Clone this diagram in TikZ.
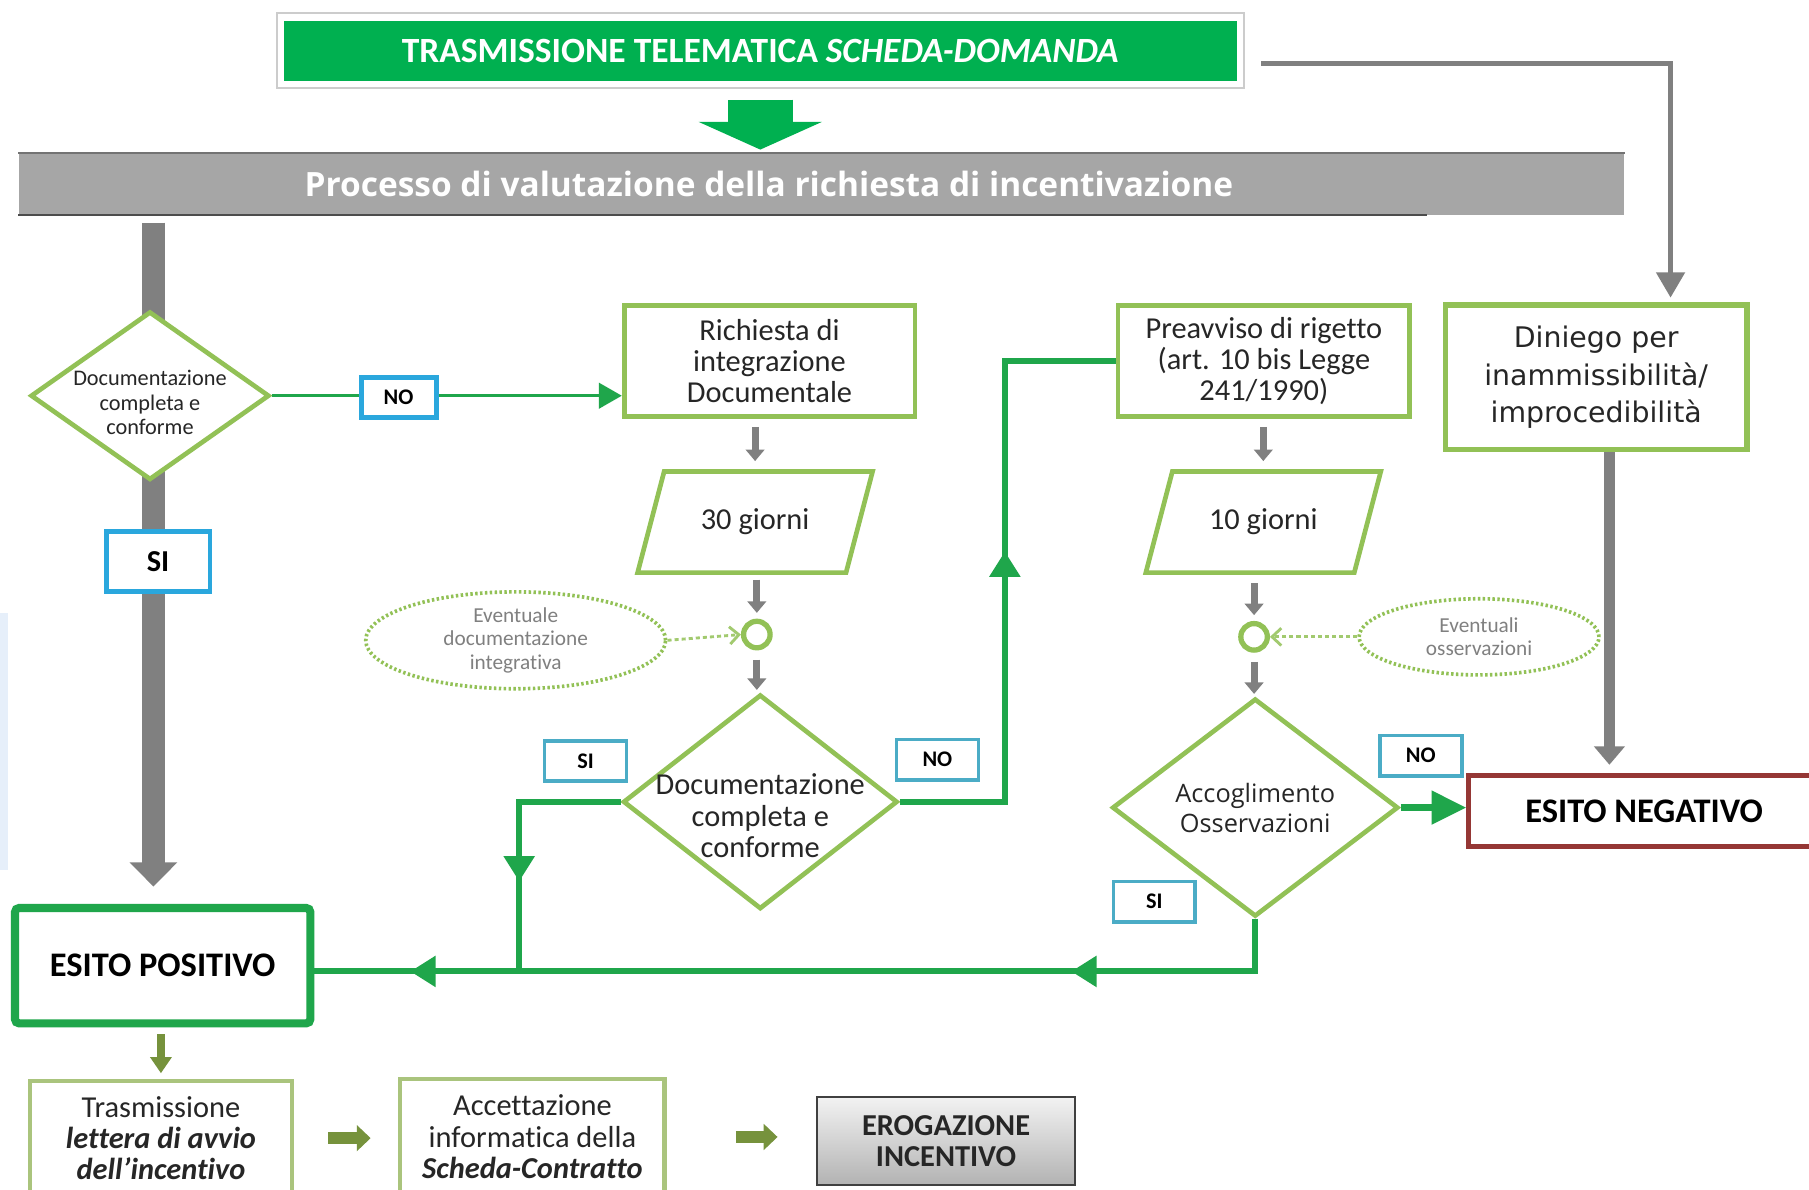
\documentclass[tikz,border=0pt]{standalone}
\usepackage{fontspec}
\setmainfont{Carlito}[Ligatures={TeX,NoCommon}]
\newfontfamily\verdfont{DejaVu Sans}
\newfontfamily\openfont{Open Sans}[Ligatures={TeX,NoCommon}]
\usetikzlibrary{arrows.meta,shapes.geometric,decorations.markings}

\definecolor{topGreen}{HTML}{00B050}
\definecolor{barGray}{HTML}{A6A6A6}
\definecolor{shapeGreen}{HTML}{92C156}
\definecolor{routeGreen}{HTML}{1FA64B}
\definecolor{labelBlue}{HTML}{2AA7DD}
\definecolor{tagBlue}{HTML}{4BACC6}
\definecolor{arrowGray}{HTML}{808080}
\definecolor{oliveGreen}{HTML}{76923C}
\definecolor{paleOlive}{HTML}{AAC47D}
\definecolor{negRed}{HTML}{953735}
\definecolor{inkGray}{HTML}{262626}
\definecolor{edgeBlue}{HTML}{E6EFFA}

\begin{document}
\begin{tikzpicture}[x=0.02cm, y=-0.02cm,
  stepbox/.style={draw=shapeGreen, line width=2.3pt, fill=white, text=inkGray, align=center, inner sep=0pt},
  decision/.style={diamond, draw=shapeGreen, line width=2.3pt, fill=white, inner sep=0pt},
  waitbox/.style={minimum width=3.6cm, minimum height=1.74cm, text=inkGray, inner sep=0pt, font=\fontsize{15}{18}\selectfont},
  hub/.style={circle, draw=shapeGreen, line width=2.6pt, fill=white, minimum size=0.46cm, inner sep=0pt},
  cloud/.style={ellipse, draw=shapeGreen, line width=1.8pt, dash pattern=on 1.2pt off 1.2pt, text=arrowGray, align=center, inner sep=0pt, font=\fontsize{10.5}{11.5}\selectfont},
  tagbig/.style={draw=labelBlue, line width=2.4pt, fill=white, inner sep=0pt},
  tag/.style={draw=tagBlue, line width=1.8pt, fill=white, minimum width=1.42cm, minimum height=0.7cm, inner sep=0pt, font=\fontsize{11}{13}\selectfont\bfseries},
  feed/.style={draw=arrowGray, line width=0.12cm, -{Triangle[width=0.32cm,length=0.2cm]}},
  hint/.style={draw=shapeGreen!85, line width=1.4pt, dash pattern=on 2pt off 1.5pt, -{Straight Barb[length=0.16cm,width=0.3cm]}},
  route/.style={draw=routeGreen, line width=2.9pt},
  tipmark/.style={postaction={decorate, decoration={markings, mark=at position #1 with {\arrow{Triangle[width=0.52cm,length=0.44cm]}}}}},
  olive/.style={draw=oliveGreen, line width=#1}]
\def\slantframe#1{\draw[draw=shapeGreen, line width=2.3pt] ([xshift=0.23cm]#1.north west) -- ([xshift=0.23cm]#1.north east) -- ([xshift=-0.23cm]#1.south east) -- ([xshift=-0.23cm]#1.south west) -- cycle;}
\fill[white] (0,0) rectangle (1568,1031);
\useasboundingbox (0,0) rectangle (1568,1031);
\fill[edgeBlue] (0,531) rectangle (7,754);

% Header: transmission and evaluation banner
\node[fill=topGreen, text=white, minimum width=16.52cm, minimum height=1.04cm, inner sep=0pt, font=\fontsize{17.5}{20}\selectfont\bfseries] (intake) at (659,44) {TRASMISSIONE TELEMATICA \textit{SCHEDA-DOMANDA}};
\draw[black!20, line width=1pt] ([shift={(-0.12cm,0.12cm)}]intake.north west) rectangle ([shift={(0.12cm,-0.12cm)}]intake.south east);
\node[fill=barGray, minimum width=27.84cm, minimum height=1.06cm, inner sep=0pt, label={[text=white, xshift=-0.91cm, font=\openfont\fontsize{16.5}{19}\selectfont\bfseries]center:Processo di valutazione della richiesta di incentivazione}] (review) at (712,159.5) {};
\draw[black!55, line width=0.8pt] (review.north west) -- (review.north east);
\draw[black!70, line width=1pt] (review.south west) -- ++(1221,0);
\draw[topGreen, line width=1.12cm, -{Triangle[width=2.12cm,length=0.48cm]}, shorten <=0.32cm, shorten >=0.06cm] (intake.south) -- (intake.south |- review.north);

% Left column: first check
\node[draw=routeGreen, line width=4pt, rounded corners=2pt, fill=white, minimum width=5.12cm, minimum height=2cm, font=\fontsize{17}{20}\selectfont\bfseries] (pos) at (141,837) {ESITO POSITIVO};
\coordinate (spine) at (133,193);
\draw[arrowGray, line width=0.4cm, -{Triangle[width=0.8cm,length=0.42cm]}, shorten >=0.3cm] (spine) -- (spine |- pos.north);
\node[decision, minimum width=4.14cm, minimum height=2.92cm, label={[align=center, text=inkGray, yshift=-0.12cm, font=\fontsize{11}{12}\selectfont]center:Documentazione\\completa e\\conforme}] (check) at (130,343) {};
\node[tagbig, minimum width=1.8cm, minimum height=1.04cm, font=\fontsize{15}{18}\selectfont\bfseries] (yesA) at (137,487) {SI};

% Middle column: integration request
\node[stepbox, minimum width=5.04cm, minimum height=1.92cm, font=\fontsize{15}{15.5}\selectfont] (request) at (667,313) {Richiesta di\\integrazione\\Documentale};
\draw[routeGreen, line width=1.7pt, -{Triangle[width=0.44cm,length=0.4cm]}] (check.east) -- (check.east -| request.west);
\node[tagbig, minimum width=1.3cm, minimum height=0.7cm, font=\fontsize{11}{13}\selectfont\bfseries] (noA) at (345.5,344.5) {NO};
\node[waitbox] (wait30) at (654.5,452.5) {30 giorni};
\slantframe{wait30}
\draw[feed, shorten <=0.14cm, shorten >=0.18cm] (request.south -| wait30.north) -- (wait30.north);
\node[hub] (gateA) at (656,550) {};
\draw[feed, shorten <=0.12cm, shorten >=0.1cm] (wait30.south -| gateA) -- (gateA.north);
\node[cloud, minimum width=5.2cm, minimum height=1.68cm] (extraA) at (447,555) {Eventuale\\documentazione\\integrativa};
\draw[hint] (extraA.east) -- (gateA.west);
\node[decision, minimum width=4.76cm, minimum height=3.72cm, label={[align=center, text=inkGray, yshift=-0.24cm, font=\fontsize{15}{15.5}\selectfont]center:Documentazione\\completa e\\conforme}] (checkB) at (659,695) {};
\draw[feed, shorten <=0.16cm, shorten >=0.04cm] (gateA.south) -- (gateA.south |- checkB.north);

% Right column: notice of rejection
\node[stepbox, minimum width=5.06cm, minimum height=1.92cm, font=\fontsize{15}{15.5}\selectfont] (notice) at (1095.5,313) {Preavviso di rigetto\\(art. 10 bis Legge\\241/1990)};
\node[waitbox] (wait10) at (1095,452.5) {10 giorni};
\slantframe{wait10}
\draw[feed, shorten <=0.14cm, shorten >=0.18cm] (notice.south -| wait10.north) -- (wait10.north);
\node[hub] (gateB) at (1087,552) {};
\draw[feed, shorten <=0.18cm, shorten >=0.1cm] (wait10.south -| gateB) -- (gateB.north);
\node[cloud, minimum width=4.16cm, minimum height=1.32cm] (extraB) at (1282,552) {Eventuali\\osservazioni};
\draw[hint] (extraB.west) -- (gateB.east);
\node[decision, minimum width=4.96cm, minimum height=3.78cm, label={[align=center, text=inkGray, font=\openfont\fontsize{12.5}{14.8}\selectfont]center:Accoglimento\\Osservazioni}] (checkC) at (1088,700) {};
\draw[feed, shorten <=0.16cm, shorten >=0.04cm] (gateB.south) -- (gateB.south |- checkC.north);

% Denial and negative outcome
\node[stepbox, line width=2.8pt, minimum width=5.22cm, minimum height=2.5cm, font=\verdfont\fontsize{14}{18.4}\selectfont] (denial) at (1383.5,327) {Diniego per\\inammissibilità/\\improcedibilità};
\draw[arrowGray, line width=0.1cm, -{Triangle[width=0.48cm,length=0.44cm]}, shorten >=0.08cm] ([xshift=0.42cm,yshift=-0.22cm]intake.east) -| ([xshift=1.29cm]denial.north);
\node[draw=negRed, line width=2.4pt, fill=white, minimum width=6.08cm, minimum height=1.24cm, font=\fontsize{17}{20}\selectfont\bfseries] (negative) at (1425,703) {ESITO NEGATIVO};
\draw[arrowGray, line width=0.2cm, -{Triangle[width=0.52cm,length=0.32cm]}, shorten >=0.14cm] ([xshift=0.23cm]denial.south) -- ([xshift=0.23cm]denial.south |- negative.north);
\draw[routeGreen, line width=3.4pt, -{Triangle[width=0.56cm,length=0.6cm]}] (checkC.east) -- (checkC.east -| negative.west);

% Green routes back to the positive outcome
\coordinate (joinA) at (450,842);
\draw[route, tipmark=3.14cm] (checkB.west) -| (joinA);
\draw[route, tipmark=6.16cm] (checkB.east) -- ++(91,0) |- (notice.west);
\draw[route, tipmark=4.1cm, tipmark=15.56cm] (checkC.south) |- ([yshift=-0.1cm]pos.east);
\node[tag] (yesB) at (507.5,659.5) {SI};
\node[tag] (noB) at (812.5,658.5) {NO};
\node[tag] (noC) at (1231.5,655) {NO};
\node[tag] (yesC) at (1000.5,781.5) {SI};

% Bottom row: contract and payment
\node[stepbox, draw=paleOlive, line width=2pt, minimum width=4.54cm, minimum height=1.98cm, font=\fontsize{15}{15.5}\selectfont] (letter) at (139.5,986.5) {Trasmissione\\\textbf{\textit{lettera di avvio}}\\\textbf{\textit{dell'incentivo}}};
\node[stepbox, draw=paleOlive, line width=2pt, minimum width=4.58cm, minimum height=2.02cm, font=\fontsize{15}{15.5}\selectfont] (accept) at (461.5,985.5) {Accettazione\\informatica della\\\textbf{\textit{Scheda-Contratto}}};
\node[draw=black!75, line width=1.2pt, top color=black!5, bottom color=black!30, minimum width=4.48cm, minimum height=1.52cm, inner sep=0pt, align=center, text=inkGray, font=\fontsize{15}{15.5}\selectfont\bfseries] (payout) at (820,989) {EROGAZIONE\\INCENTIVO};
\draw[olive=0.14cm, -{Triangle[width=0.36cm,length=0.28cm]}, shorten <=0.12cm, shorten >=0.1cm] (pos.south -| letter.north) -- (letter.north);
\draw[olive=0.22cm, -{Triangle[width=0.44cm,length=0.24cm]}, shorten <=0.6cm, shorten >=0.48cm] (letter.east) -- (letter.east -| accept.west);
\draw[olive=0.22cm, -{Triangle[width=0.44cm,length=0.24cm]}, shorten <=1.2cm, shorten >=0.66cm] (accept.east) -- (accept.east -| payout.west);
\end{tikzpicture}
\end{document}
